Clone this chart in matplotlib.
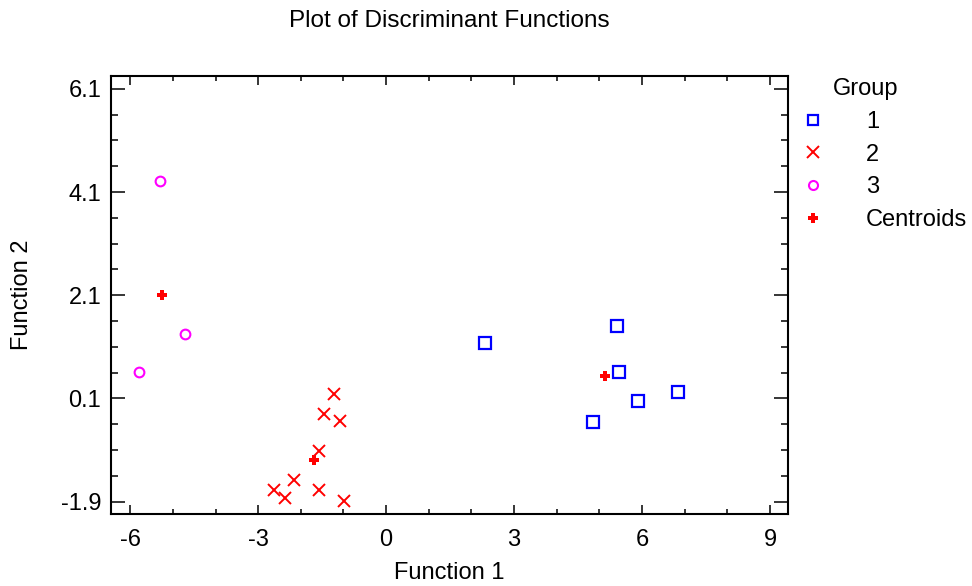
import numpy as np
import matplotlib.pyplot as plt
from matplotlib.ticker import FixedLocator, MultipleLocator
from matplotlib.lines import Line2D

plt.rcParams['font.family'] = ['Liberation Sans', 'DejaVu Sans']

# group 1 (squares)
g1_x = [2.31, 5.41, 5.45, 5.90, 6.84, 4.84]
g1_y = [1.18, 1.50, 0.62, 0.05, 0.22, -0.35]
# group 2 (crosses)
g2_x = [-1.23, -1.45, -1.09, -1.57, -2.17, -2.62, -2.36, -1.57, -0.99]
g2_y = [0.19, -0.20, -0.34, -0.92, -1.48, -1.67, -1.83, -1.67, -1.88]
# group 3 (circles)
g3_x = [-5.30, -4.71, -5.79]
g3_y = [4.31, 1.34, 0.61]
# centroids
cent_x = [5.12, -1.68, -5.25]
cent_y = [0.53, -1.10, 2.10]

x_ticks = [-6, -3, 0, 3, 6, 9]
y_ticks = [-1.9, 0.1, 2.1, 4.1, 6.1]
group_labels = ['1', '2', '3', 'Centroids']

fig = plt.figure(figsize=(9.72, 5.86), dpi=100)
ax = fig.add_axes([0.1142, 0.1229, 0.6965, 0.7474])

ax.plot(g1_x, g1_y, ls='none', marker='s', ms=8, mfc='none', mec='#0000ff', mew=1.6)
ax.plot(g2_x, g2_y, ls='none', marker='x', ms=9, color='#ff0000', mew=1.4)
ax.plot(g3_x, g3_y, ls='none', marker='o', ms=7, mfc='none', mec='#ff00ff', mew=1.5)
ax.plot(cent_x, cent_y, ls='none', marker='P', ms=7, color='#ff0000', mew=0)

ax.set_xlim(-6.45, 9.42)
ax.set_ylim(-2.14, 6.35)
ax.xaxis.set_major_locator(FixedLocator(x_ticks))
ax.xaxis.set_minor_locator(MultipleLocator(1))
ax.yaxis.set_major_locator(FixedLocator(y_ticks))
ax.yaxis.set_minor_locator(FixedLocator(np.arange(-1.9, 6.2, 0.5)))
ax.set_xticklabels([str(t) for t in x_ticks])
ax.set_yticklabels([str(t) for t in y_ticks])

ax.tick_params(which='both', direction='in', top=True, right=True, width=1.1,
               labelsize=17, colors='black')
ax.tick_params(axis='x', which='major', length=6.5, pad=11)
ax.tick_params(axis='x', which='minor', length=3.6)
ax.tick_params(axis='y', which='major', length=10, pad=7)
ax.tick_params(axis='y', which='minor', length=5)
for s in ax.spines.values():
    s.set_linewidth(1.5)

ax.set_xlabel('Function 1', fontsize=17, labelpad=8)
ax.set_ylabel('Function 2', fontsize=17, labelpad=20)
ax.set_title('Plot of Discriminant Functions', fontsize=17.5, pad=35)

handles = [
    Line2D([], [], ls='none', marker='s', ms=7, mfc='none', mec='#0000ff', mew=1.6),
    Line2D([], [], ls='none', marker='x', ms=8, color='#ff0000', mew=1.4),
    Line2D([], [], ls='none', marker='o', ms=6.5, mfc='none', mec='#ff00ff', mew=1.5),
    Line2D([], [], ls='none', marker='P', ms=7, color='#ff0000', mew=0),
]
fig.text(833 / 972, 1 - 89 / 586, 'Group', fontsize=17, ha='left', va='center')
fig.legend(handles, group_labels, loc='upper left', bbox_to_anchor=(801 / 972, 1 - 111 / 586),
           frameon=False, fontsize=17, handlelength=1.0, handletextpad=1.75,
           labelspacing=0.45, borderpad=0, borderaxespad=0)

fig.savefig('out.png', dpi=100)
